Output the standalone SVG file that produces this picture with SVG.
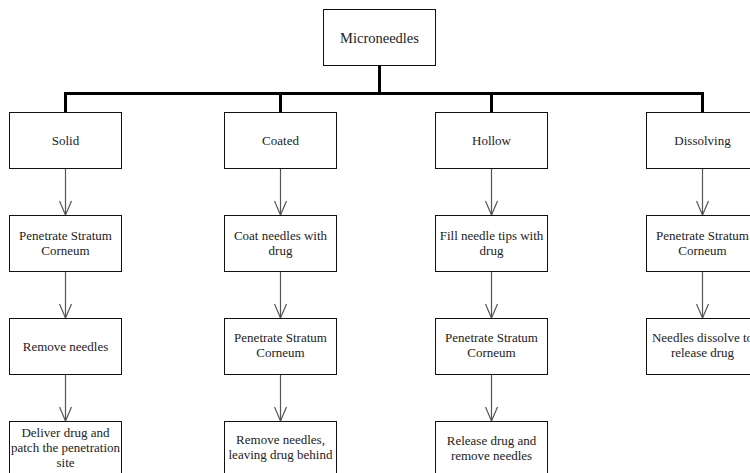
<svg xmlns="http://www.w3.org/2000/svg" width="750" height="473" viewBox="0 0 750 473">
<style>
.box{fill:#fff;stroke:#111;stroke-width:1}
text{font-family:'Liberation Serif','Times New Roman','DejaVu Serif',serif;font-size:13px;fill:#222;text-anchor:middle}
.root{font-size:14.5px}
.tree{fill:none;stroke:#000;stroke-width:3}
.arr{fill:none;stroke:#555;stroke-width:1.2;marker-end:url(#v)}
</style>
<defs>
<marker id="v" viewBox="0 0 16 14" refX="15" refY="7" markerWidth="16" markerHeight="14" markerUnits="userSpaceOnUse" orient="auto">
<path d="M1,1 L15,7 L1,13" fill="none" stroke="#555" stroke-width="1.2"/>
</marker>
</defs>
<rect width="750" height="473" fill="#fff"/>
<g id="connectors">
<path class="tree" d="M379.5,65.5 V93.5 M65.5,112.5 V93.5 H702.5 V112.5 M280.5,93.5 V112.5 M491.5,93.5 V112.5"/>
<path class="arr" d="M65.5,168.5 V215"/>
<path class="arr" d="M65.5,271.5 V318"/>
<path class="arr" d="M65.5,374.5 V421"/>
<path class="arr" d="M280.5,168.5 V215"/>
<path class="arr" d="M280.5,271.5 V318"/>
<path class="arr" d="M280.5,374.5 V421"/>
<path class="arr" d="M491.5,168.5 V215"/>
<path class="arr" d="M491.5,271.5 V318"/>
<path class="arr" d="M491.5,374.5 V421"/>
<path class="arr" d="M702.5,168.5 V215"/>
<path class="arr" d="M702.5,271.5 V318"/>
</g>
<g id="microneedles"><rect class="box" x="323.5" y="9.5" width="112" height="56"/><text class="root" x="379.5" y="42.5">Microneedles</text></g>

<g id="solid"><rect class="box" x="9.5" y="112.5" width="112" height="56"/><text x="65.5" y="144.5">Solid</text></g>
<g id="coated"><rect class="box" x="224.5" y="112.5" width="112" height="56"/><text x="280.5" y="144.5">Coated</text></g>
<g id="hollow"><rect class="box" x="435.5" y="112.5" width="112" height="56"/><text x="491.5" y="144.5">Hollow</text></g>
<g id="dissolving"><rect class="box" x="646.5" y="112.5" width="112" height="56"/><text x="702.5" y="144.5">Dissolving</text></g>

<g id="solid-1"><rect class="box" x="9.5" y="215.5" width="112" height="56"/><text x="65.5" y="239.5">Penetrate Stratum</text><text x="65.5" y="254.5">Corneum</text></g>
<g id="coated-1"><rect class="box" x="224.5" y="215.5" width="112" height="56"/><text x="280.5" y="239.5">Coat needles with</text><text x="280.5" y="254.5">drug</text></g>
<g id="hollow-1"><rect class="box" x="435.5" y="215.5" width="112" height="56"/><text x="491.5" y="239.5">Fill needle tips with</text><text x="491.5" y="254.5">drug</text></g>
<g id="dissolving-1"><rect class="box" x="646.5" y="215.5" width="112" height="56"/><text x="702.5" y="239.5">Penetrate Stratum</text><text x="702.5" y="254.5">Corneum</text></g>

<g id="solid-2"><rect class="box" x="9.5" y="318.5" width="112" height="56"/><text x="65.5" y="351">Remove needles</text></g>
<g id="coated-2"><rect class="box" x="224.5" y="318.5" width="112" height="56"/><text x="280.5" y="342">Penetrate Stratum</text><text x="280.5" y="357">Corneum</text></g>
<g id="hollow-2"><rect class="box" x="435.5" y="318.5" width="112" height="56"/><text x="491.5" y="342">Penetrate Stratum</text><text x="491.5" y="357">Corneum</text></g>
<g id="dissolving-2"><rect class="box" x="646.5" y="318.5" width="112" height="56"/><text x="702.5" y="342">Needles dissolve to</text><text x="702.5" y="357">release drug</text></g>

<g id="solid-3"><rect class="box" x="9.5" y="421.5" width="112" height="56"/><text x="65.5" y="436.5">Deliver drug and</text><text x="65.5" y="451.5">patch the penetration</text><text x="65.5" y="466.5">site</text></g>
<g id="coated-3"><rect class="box" x="224.5" y="421.5" width="112" height="56"/><text x="280.5" y="444">Remove needles,</text><text x="280.5" y="459">leaving drug behind</text></g>
<g id="hollow-3"><rect class="box" x="435.5" y="421.5" width="112" height="56"/><text x="491.5" y="445">Release drug and</text><text x="491.5" y="460">remove needles</text></g>
</svg>
